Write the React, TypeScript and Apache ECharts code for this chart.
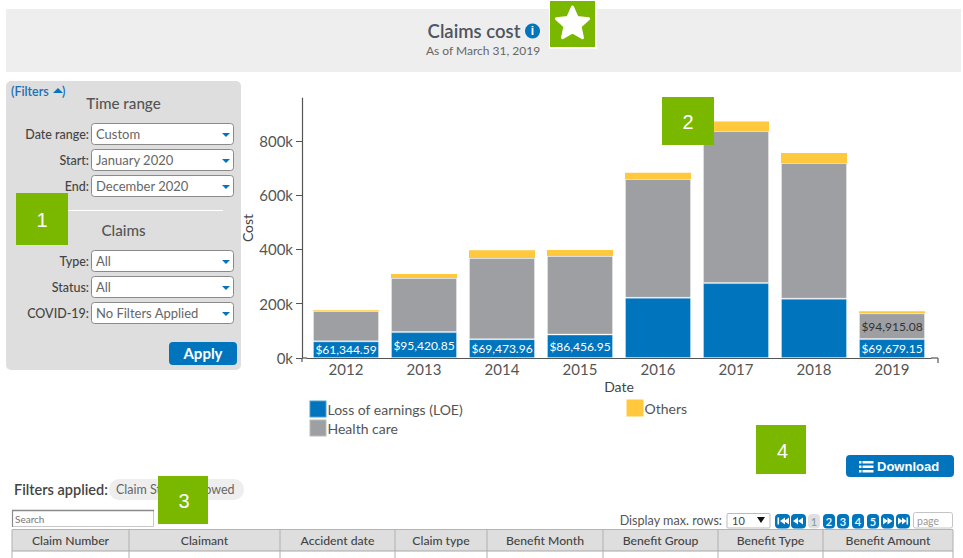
import React, { useEffect, useRef } from "react";
import * as echarts from "echarts";

const years = ["2012", "2013", "2014", "2015", "2016", "2017", "2018", "2019"];
const loe = [61344.59, 95420.85, 69473.96, 86456.95, 222000, 276000, 218700, 69679.15];
const health = [112000, 199500, 299000, 289500, 438000, 560000, 500000, 94915.08];
const others = [2500, 14700, 29000, 22000, 23000, 35000, 37000, 8000];
const filterRows = [
  ["Date range:", "Custom", 123],
  ["Start:", "January 2020", 149],
  ["End:", "December 2020", 175],
  ["Type:", "All", 250],
  ["Status:", "All", 276],
  ["COVID-19:", "No Filters Applied", 302],
];
const tableColumns = ["Claim Number", "Claimant", "Accident date", "Claim type", "Benefit Month", "Benefit Group", "Benefit Type", "Benefit Amount"];
const columnEdges = [12, 129, 280, 395, 487, 603, 718, 823, 953];
const pageNumbers = [["1", 808, 820], ["2", 823, 835], ["3", 837, 849], ["4", 852, 864], ["5", 867, 879]];
const markers = [["1", 16, 193, 52, 52], ["2", 662, 97, 52, 48], ["3", 158, 476, 50, 48], ["4", 756, 425, 50, 49]];

const FONT = "Lato";
const BLUE = "#0075BE";
const INK = "#555555";

const txt = (text: string, x: number, y: number, o: any = {}) => ({
  type: "text", x, y, z: o.z ?? 10,
  style: {
    text, fill: o.fill ?? INK, font: `${o.weight ?? "normal"} ${o.size ?? 12}px ${o.family ?? FONT}`,
    textAlign: o.align ?? "left", textVerticalAlign: "middle",
  },
});
const box = (x: number, y: number, w: number, h: number, fill: string, o: any = {}) => ({
  type: "rect", z: o.z ?? 10,
  shape: { x, y, width: w, height: h, r: o.r ?? 0 },
  style: { fill, stroke: o.stroke ?? "none", lineWidth: o.lw ?? 1 },
});
const seg = (x1: number, y1: number, x2: number, y2: number, stroke: string, lw = 1, z = 10) => ({
  type: "line", z, shape: { x1, y1, x2, y2 }, style: { stroke, lineWidth: lw },
});
const tri = (pts: number[][], fill: string, z = 11) => ({ type: "polygon", z, shape: { points: pts }, style: { fill } });

function starPoints(cx: number, cy: number, R: number, r: number) {
  const out: number[][] = [];
  for (let i = 0; i < 10; i++) {
    const a = -Math.PI / 2 + (i * Math.PI) / 5;
    const d = i % 2 ? r : R;
    out.push([cx + d * Math.cos(a), cy + d * Math.sin(a)]);
  }
  return out;
}

function buildGraphic() {
  const g: any[] = [];
  // header band
  g.push(box(6, 9, 955, 63, "#eeeeee"));
  g.push(txt("Claims cost", 474, 30.5, { size: 18.5, align: "center", weight: 600, fill: "#4d5560" }));
  g.push({ type: "circle", z: 10, shape: { cx: 532.5, cy: 31, r: 7.5 }, style: { fill: BLUE } });
  g.push(txt("i", 532.5, 31, { size: 12, align: "center", weight: "bold", fill: "#fff", family: "Liberation Sans" }));
  g.push(txt("As of March 31, 2019", 483, 50, { size: 12, align: "center", fill: "#666" }));
  g.push(box(549, 0, 48, 49, "#ffffff"));
  g.push(box(550, 1, 45, 46, "#7AB800"));
  g.push({
    type: "polygon", z: 11, shape: { points: starPoints(572.5, 24, 17, 8) },
    style: { fill: "#fff", stroke: "#fff", lineWidth: 3, lineJoin: "round" },
  });

  // filter panel
  g.push(box(6, 81, 235, 289, "#dedede", { r: 5 }));
  g.push(txt("(Filters", 11, 91, { size: 12.5, fill: "#1b6fb5", weight: 600 }));
  g.push(tri([[53, 93], [63, 93], [58, 88]], BLUE));
  g.push(txt(")", 62, 91, { size: 12.5, fill: "#1b6fb5", weight: 600 }));
  g.push(txt("Time range", 123.5, 103, { size: 15.2, align: "center", weight: 500 }));
  g.push(seg(68, 210.5, 223, 210.5, "#ffffff"));
  g.push(txt("Claims", 123.5, 230, { size: 15.2, align: "center", weight: 500 }));
  filterRows.forEach(([label, value, y]) => {
    const top = y as number;
    g.push(txt(label as string, 89, top + 11, { size: 12.5, align: "right", weight: 500, fill: "#444" }));
    g.push(box(91.5, top + 0.5, 142, 21, "#ffffff", { r: 3, stroke: "#8a8a8a", lw: 1 }));
    g.push(txt(value as string, 96, top + 10.5, { size: 13, fill: "#666" }));
    g.push(tri([[222, top + 10], [230, top + 10], [226, top + 14]], BLUE));
  });
  g.push(box(169, 342, 68, 23, BLUE, { r: 4 }));
  g.push(txt("Apply", 203, 353, { size: 15, align: "center", weight: "bold", fill: "#fff" }));

  // chart axis ends
  g.push(seg(302, 358, 307, 358, INK, 1.2));
  g.push(seg(931, 358, 938, 358, INK, 1.2));
  g.push(seg(938, 358, 938, 363, INK, 1.2));
  g.push(seg(302, 358, 302, 362, INK, 1.2));

  // download
  g.push(box(846, 455, 108, 22, BLUE, { r: 4 }));
  [461, 465.5, 470].forEach((y) => {
    g.push(box(859, y, 2.5, 2.5, "#fff", { z: 11 }));
    g.push(box(862.5, y, 11, 2.5, "#fff", { z: 11 }));
  });
  g.push(txt("Download", 877, 466, { size: 13, weight: "bold", fill: "#fff", family: "Liberation Sans" }));

  // filters applied
  g.push(txt("Filters applied:", 14, 489, { size: 14.5, weight: 600, fill: "#444" }));
  g.push(box(109, 479, 135, 21, "#eeeeee", { r: 10 }));
  g.push(txt("Claim Status: Allowed", 116, 489.5, { size: 12.5, fill: "#666" }));

  // search and paging
  g.push(box(12.5, 510.5, 141, 16, "#ffffff", { stroke: "#c8c8c8" }));
  g.push(seg(12, 510.5, 154, 510.5, "#8a8a8a", 1.4));
  g.push(seg(12.5, 510, 12.5, 527, "#8a8a8a", 1.2));
  g.push(txt("Search", 15, 518.5, { size: 10, fill: "#777" }));
  g.push(txt("Display max. rows:", 722, 520.5, { size: 12.6, align: "right", fill: "#555" }));
  g.push(box(727, 513.5, 43, 14.5, "#ffffff", { stroke: "#bbbbbb", r: 1 }));
  g.push(txt("10", 732, 520.5, { size: 11, fill: "#444" }));
  g.push(tri([[757, 517], [765, 517], [761, 523]], "#111"));

  const btn = (x1: number, x2: number) => box(x1, 514, x2 - x1, 14.5, BLUE, { r: 4 });
  g.push(btn(775, 790));
  g.push(box(777.5, 517.5, 1.6, 7, "#fff", { z: 11 }));
  g.push(tri([[785, 517.5], [785, 524.5], [780, 521]], "#fff"));
  g.push(tri([[789, 517.5], [789, 524.5], [784, 521]], "#fff"));
  g.push(btn(791, 806));
  g.push(tri([[798, 517.5], [798, 524.5], [793, 521]], "#fff"));
  g.push(tri([[803, 517.5], [803, 524.5], [798, 521]], "#fff"));
  pageNumbers.forEach(([label, a, b], i) => {
    g.push(box(a as number, 514, (b as number) - (a as number), 14.5, i === 0 ? "#e0e0e0" : BLUE, { r: 4 }));
    g.push(txt(label as string, ((a as number) + (b as number)) / 2, 521, {
      size: 11, align: "center", weight: 600, fill: i === 0 ? "#8aa0b0" : "#fff", z: 11,
    }));
  });
  g.push(btn(881, 894));
  g.push(tri([[883, 517.5], [883, 524.5], [888, 521]], "#fff"));
  g.push(tri([[887.5, 517.5], [887.5, 524.5], [892.5, 521]], "#fff"));
  g.push(btn(896, 910));
  g.push(tri([[898, 517.5], [898, 524.5], [902.5, 521]], "#fff"));
  g.push(tri([[902, 517.5], [902, 524.5], [906.5, 521]], "#fff"));
  g.push(box(906.5, 517.5, 1.6, 7, "#fff", { z: 11 }));
  g.push(box(913.5, 512.5, 39, 15.5, "#ffffff", { stroke: "#c4c4c4", r: 2 }));
  g.push(txt("page", 917, 520.5, { size: 10.5, fill: "#999" }));

  // table
  g.push(box(12, 530, 941, 21, "#dedede"));
  g.push(seg(12, 529.5, 953, 529.5, "#b5b5b5", 1));
  g.push(seg(12, 551, 953, 551, "#a8a8a8", 1));
  columnEdges.forEach((x) => g.push(seg(x, 530, x, 558, "#b0b0b0", 1)));
  tableColumns.forEach((c, i) => {
    g.push(txt(c, (columnEdges[i] + columnEdges[i + 1]) / 2, 540.5, { size: 12.2, align: "center", weight: 500, fill: "#444" }));
  });

  // numbered markers
  markers.forEach(([n, x, y, w, h]) => {
    g.push(box(x as number, y as number, w as number, h as number, "#7AB800", { z: 30 }));
    g.push(txt(n as string, (x as number) + (w as number) / 2 + (n === "4" ? 1.5 : n === "3" ? 1 : 0), (y as number) + (h as number) / 2 + 1, {
      size: 20, align: "center", fill: "#fff", family: "Liberation Sans", z: 31,
    }));
  });
  return g;
}

const money = (v: number) =>
  "$" + v.toLocaleString("en-US", { minimumFractionDigits: 2, maximumFractionDigits: 2 });

const labelFor = (color: string) => ({
  show: true,
  position: "inside" as const,
  color,
  fontFamily: FONT,
  fontSize: 12,
  formatter: (p: any) => (p.value < 100000 ? money(p.value) : ""),
});

export default function App() {
  const ref = useRef<HTMLDivElement>(null);
  useEffect(() => {
    document.body.style.margin = "0";
    const chart = echarts.init(ref.current!, null, { renderer: "svg" });
    const bar = { type: "bar", stack: "cost", barWidth: 66 };
    const edge = { borderColor: "rgba(255,255,255,0.3)", borderWidth: 1 };
    chart.setOption({
      animation: false,
      textStyle: { fontFamily: FONT },
      grid: { left: 307, right: 32, top: 98, bottom: 200, containLabel: false },
      xAxis: {
        type: "category", data: years,
        name: "Date", nameLocation: "middle", nameGap: 21,
        nameTextStyle: { color: "#444", fontSize: 14, fontFamily: FONT },
        axisLine: { lineStyle: { color: INK, width: 1.2 } },
        axisTick: { alignWithLabel: true, length: 5, lineStyle: { color: INK } },
        axisLabel: { color: INK, fontSize: 15, margin: 3, fontFamily: FONT, interval: 0 },
      },
      yAxis: {
        type: "value", min: 0, max: 958000, interval: 200000, offset: 5,
        name: "Cost", nameLocation: "middle", nameGap: 55, nameMoveOverlap: false,
        nameTextStyle: { color: "#444", fontSize: 14, fontFamily: FONT, verticalAlign: "middle" },
        splitLine: { show: false },
        axisLine: { show: true, lineStyle: { color: INK, width: 1.2 } },
        axisTick: { show: true, length: 6, lineStyle: { color: INK } },
        axisLabel: {
          color: INK, fontSize: 15, margin: 9, fontFamily: FONT, showMaxLabel: false,
          padding: [0, 0, 4, 0],
          formatter: (v: number) => `${v / 1000}k`,
        },
      },
      legend: [
        { name: "Loss of earnings (LOE)", left: 308.5, top: 399.5 },
        { name: "Others", left: 626.5, top: 399.5 },
        { name: "Health care", left: 308.5, top: 418.5 },
      ].map((l) => ({
        data: [l.name], left: l.left, top: l.top, padding: 0, orient: "horizontal",
        itemWidth: 17, itemHeight: 17, itemGap: 0, selectedMode: false, icon: "rect",
        textStyle: { color: INK, fontSize: 14, fontFamily: FONT, padding: [0, 0, 5, -4] },
      })),
      series: [
        { ...bar, name: "Loss of earnings (LOE)", data: loe, itemStyle: { color: BLUE, ...edge }, label: labelFor("#ffffff") },
        { ...bar, name: "Health care", data: health, itemStyle: { color: "#9D9FA2", ...edge }, label: labelFor("#333333") },
        { ...bar, name: "Others", data: others, itemStyle: { color: "#FFC83D" } },
      ],
      graphic: { elements: buildGraphic() },
    });
    return () => chart.dispose();
  }, []);
  return <div ref={ref} style={{ width: 963, height: 558 }} />;
}
